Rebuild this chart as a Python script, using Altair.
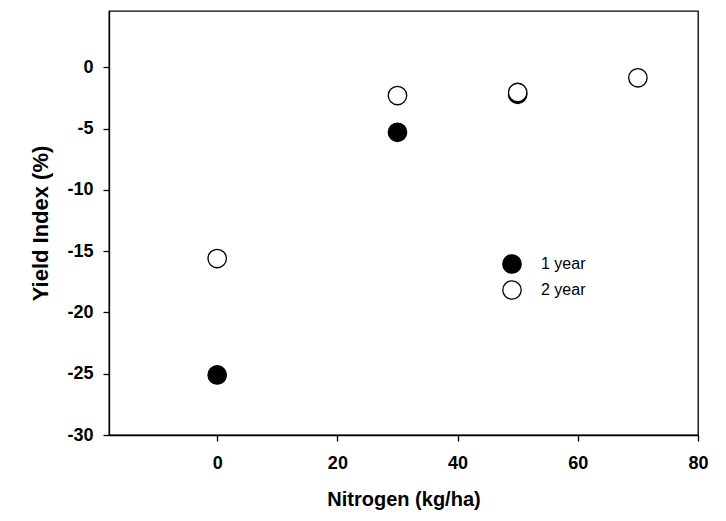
import altair as alt
import pandas as pd

series = ["1 year", "2 year"]
nitrogen_1yr = [0, 30, 50]
yield_1yr = [-25.1, -5.3, -2.2]
nitrogen_2yr = [0, 30, 50, 70]
yield_2yr = [-15.6, -2.3, -2.05, -0.85]
x_ticks = [0, 20, 40, 60, 80]
y_ticks = [-30, -25, -20, -15, -10, -5, 0]

df = pd.DataFrame({
    "Nitrogen": nitrogen_1yr + nitrogen_2yr,
    "Yield": yield_1yr + yield_2yr,
    "Series": [series[0]] * len(nitrogen_1yr) + [series[1]] * len(nitrogen_2yr),
})
df["ord"] = list(range(len(df)))

FONT = "Liberation Sans"

chart = alt.Chart(df).mark_point(
    filled=True, shape="circle", size=340, stroke="black", strokeWidth=1.3, opacity=1
).encode(
    x=alt.X("Nitrogen:Q",
            scale=alt.Scale(domain=[-18, 80], nice=False, zero=False),
            axis=alt.Axis(values=x_ticks, title="Nitrogen (kg/ha)", labelPadding=13,
                          labelExpr="toString(datum.value)", labelFlush=False,
                          titlePadding=17, titleFontSize=20)),
    y=alt.Y("Yield:Q",
            scale=alt.Scale(domain=[-30, 4.6], nice=False, zero=False),
            axis=alt.Axis(values=y_ticks, title="Yield Index (%)", labelPadding=10,
                          labelExpr="toString(datum.value)", labelFlush=False,
                          titlePadding=14, titleFontSize=22)),
    fill=alt.Fill("Series:N",
                  scale=alt.Scale(domain=series, range=["black", "white"]),
                  legend=alt.Legend(title=None, orient="none", legendX=393, legendY=243,
                                    symbolType="circle", symbolSize=340,
                                    symbolStrokeColor="black", symbolStrokeWidth=1.3,
                                    labelFontSize=16, labelFont=FONT, labelColor="black",
                                    labelOffset=19, rowPadding=2)),
    order=alt.Order("ord:Q"),
).properties(
    width=589, height=424, autosize="none",
    padding={"left": 101, "top": 3, "right": 20, "bottom": 85},
).configure_view(
    stroke="black", strokeWidth=1.3
).configure_axis(
    grid=False, domainColor="black", domainWidth=1.3, tickColor="black", tickWidth=1.3,
    tickSize=6, labelFont=FONT, labelFontSize=18, labelFontWeight="bold", labelColor="black",
    titleFont=FONT, titleFontWeight="bold", titleColor="black",
)

chart.save("out.html", embed_options={"renderer": "svg", "actions": False})
